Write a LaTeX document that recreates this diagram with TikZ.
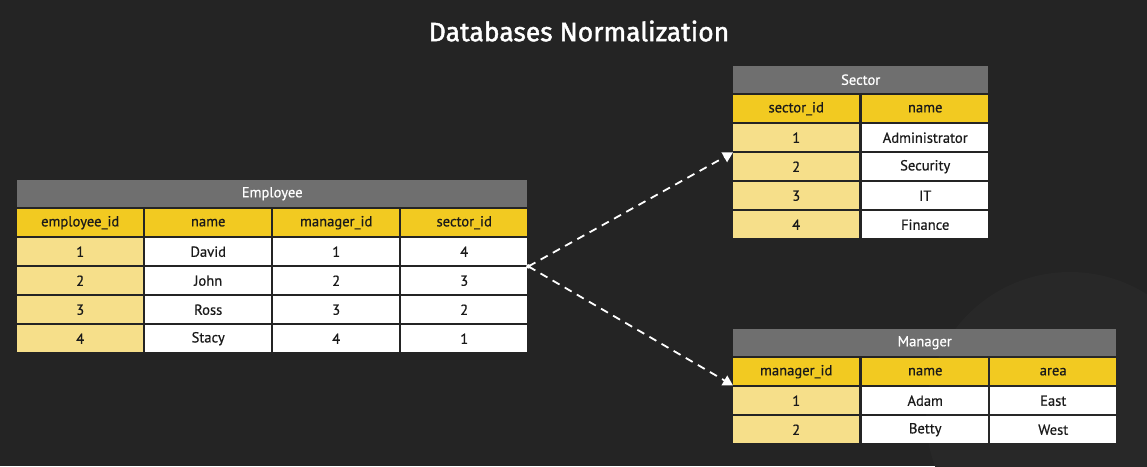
\documentclass[tikz,border=0pt]{standalone}
\usepackage{fontspec}
\setmainfont{PT Sans}
\newfontfamily\titlefont[FakeBold=1.6]{Fira Sans}
\newfontfamily\cellfnt[FakeBold=0.5]{PT Sans}
\usetikzlibrary{arrows.meta}
\definecolor{bg}{HTML}{242424}
\definecolor{bgarc}{HTML}{282828}
\definecolor{tgray}{HTML}{6F6F6F}
\definecolor{hyel}{HTML}{F2CA21}
\definecolor{lyel}{HTML}{F6DF8A}
\definecolor{txt}{HTML}{1A1A1A}
\tikzset{
  cellbase/.style={anchor=north west, inner sep=0pt, minimum height=27pt, font=\cellfnt\fontsize{14.6}{16}\selectfont, text=txt},
  titlecell/.style={cellbase, fill=tgray, text=white},
  headcell/.style={cellbase, fill=hyel, minimum width=126pt},
  keycell/.style={cellbase, fill=lyel, minimum width=126pt},
  valcell/.style={cellbase, fill=white, minimum width=126pt},
  link/.style={draw=white, line width=1.8pt, dash pattern=on 8pt off 6pt, -{Triangle[width=11pt,length=10pt]}},
}
\begin{document}
\begin{tikzpicture}[x=1pt,y=-1pt]
\useasboundingbox (0,0) rectangle (1147,466);
\begin{scope}
\clip (0,0) rectangle (1147,466);
\fill[bg] (0,0) rectangle (1147,466);
\fill[bgarc] (1070,416) circle (144);
\end{scope}
\node[text=white, font=\titlefont\fontsize{26.5}{30}\selectfont] (title) at (579,31) {Databases Normalization};

% Employee table
\node[titlecell, minimum width=510pt] (et) at (17,180) {Employee};
\node[headcell] (eh1) at (17,209) {employee\_id};
\node[headcell] (eh2) at (145,209) {name};
\node[headcell] (eh3) at (273,209) {manager\_id};
\node[headcell] (eh4) at (401,209) {sector\_id};
\foreach \r/\y/\n/\m/\s in {1/238/David/1/4, 2/267/John/2/3, 3/296/Ross/3/2, 4/325/Stacy/4/1}{
  \node[keycell] (e\r a) at (17,\y) {\r};
  \node[valcell] (e\r b) at (145,\y) {\n};
  \node[valcell] (e\r c) at (273,\y) {\m};
  \node[valcell] (e\r d) at (401,\y) {\s};
}

% Sector table
\node[titlecell, minimum width=255pt] (st) at (733,66) {Sector};
\node[headcell] (sh1) at (733,95) {sector\_id};
\node[headcell] (sh2) at (862,95) {name};
\foreach \r/\y/\n in {1/124/Administrator, 2/153/Security, 3/182/IT, 4/211/Finance}{
  \node[keycell] (s\r a) at (733,\y) {\r};
  \node[valcell] (s\r b) at (862,\y) {\n};
}

% Manager table
\node[titlecell, minimum width=383pt] (mt) at (733,329) {Manager};
\node[headcell] (mh1) at (733,358) {manager\_id};
\node[headcell] (mh2) at (862,358) {name};
\node[headcell] (mh3) at (990,358) {area};
\foreach \r/\y/\n/\a in {1/387/Adam/East, 2/416/Betty/West}{
  \node[keycell] (m\r a) at (733,\y) {\r};
  \node[valcell] (m\r b) at (862,\y) {\n};
  \node[valcell] (m\r c) at (990,\y) {\a};
}

% Links
\coordinate (src) at ([xshift=1pt,yshift=-1pt]e1d.south east);
\fill[white] (src) circle (2.2pt);
\draw[link] (src) -- ([yshift=-1pt]s1a.south west);
\draw[link] (src) -- (mh1.south west);
\end{tikzpicture}
\end{document}
